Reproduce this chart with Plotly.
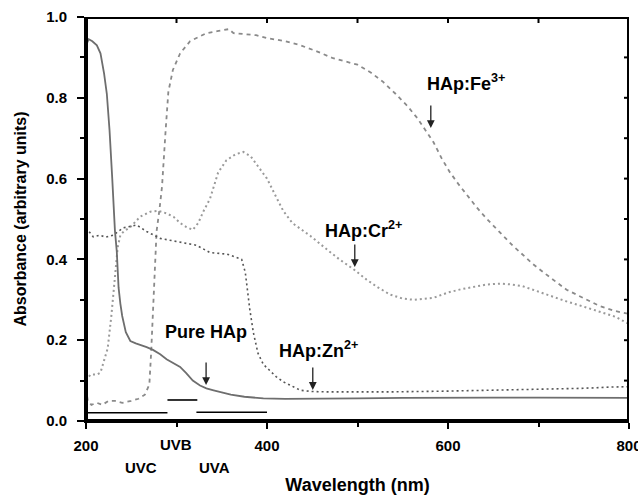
import plotly.graph_objects as go

# ---------------- data ----------------
pure_x = [200, 203, 207, 212, 216, 220, 223, 226, 229, 232, 234, 236, 238, 240, 244, 249, 255, 260, 267, 274,
          282, 289, 296, 304, 311, 318, 326, 333, 341, 348, 360, 375, 396, 420, 460, 500, 550, 600, 650, 700, 750, 800]
pure_y = [0.93, 0.945, 0.94, 0.93, 0.91, 0.86, 0.81, 0.72, 0.60, 0.47, 0.42, 0.33, 0.29, 0.26, 0.22, 0.198, 0.192,
          0.189, 0.183, 0.176, 0.165, 0.153, 0.144, 0.134, 0.118, 0.10, 0.088, 0.081, 0.076, 0.072, 0.065, 0.06,
          0.056, 0.055, 0.055, 0.056, 0.057, 0.058, 0.058, 0.058, 0.057, 0.057]

zn_x = [200, 208, 215, 222, 230, 241, 256, 267, 282, 296, 311, 322, 337, 356, 366, 372, 376, 378, 381, 385,
        390, 396, 403, 410, 418, 428, 437, 450, 466, 500, 535, 600, 650, 700, 750, 780, 800]
zn_y = [0.478, 0.456, 0.46, 0.455, 0.46, 0.478, 0.485, 0.469, 0.452, 0.446, 0.44, 0.435, 0.417, 0.413, 0.405,
        0.40, 0.368, 0.325, 0.276, 0.218, 0.168, 0.14, 0.126, 0.11, 0.097, 0.085, 0.076, 0.073, 0.072, 0.072,
        0.072, 0.074, 0.076, 0.079, 0.081, 0.084, 0.085]

cr_x = [200, 205, 212, 216, 220, 224, 228, 231, 233, 235, 238, 242, 249, 260, 271, 280, 289, 297, 304, 311,
        318, 324, 330, 337, 346, 355, 365, 374, 382, 392, 400, 410, 418, 428, 437, 448, 466, 480, 496, 510,
        523, 536, 550, 562, 584, 600, 614, 630, 643, 658, 670, 682, 702, 716, 731, 750, 768, 785, 800]
cr_y = [0.10, 0.115, 0.115, 0.12, 0.15, 0.18, 0.26, 0.33, 0.38, 0.43, 0.46, 0.47, 0.48, 0.506, 0.518, 0.52,
        0.514, 0.505, 0.49, 0.48, 0.473, 0.49, 0.52, 0.55, 0.615, 0.645, 0.66, 0.666, 0.655, 0.625, 0.60,
        0.555, 0.52, 0.49, 0.475, 0.458, 0.425, 0.40, 0.375, 0.35, 0.33, 0.313, 0.303, 0.30, 0.305, 0.318,
        0.326, 0.333, 0.338, 0.34, 0.338, 0.334, 0.318, 0.308, 0.296, 0.283, 0.27, 0.258, 0.24]

fe_x = [200, 202, 206, 212, 218, 225, 232, 240, 250, 258, 265, 270, 272, 274, 276, 278, 281, 284, 288, 291,
        296, 304, 315, 324, 333, 345, 358, 363, 375, 388, 400, 420, 437, 455, 473, 490, 500, 515, 528, 542,
        555, 566, 575, 584, 593, 602, 612, 621, 632, 643, 657, 672, 680, 694, 713, 731, 749, 768, 785, 800]
fe_y = [0.08, 0.05, 0.04, 0.045, 0.04, 0.05, 0.05, 0.045, 0.05, 0.055, 0.065, 0.09, 0.17, 0.28, 0.40, 0.47,
        0.52, 0.58, 0.72, 0.815, 0.869, 0.91, 0.94, 0.951, 0.96, 0.965, 0.97, 0.96, 0.958, 0.955, 0.948, 0.94,
        0.93, 0.915, 0.898, 0.888, 0.882, 0.862, 0.84, 0.81, 0.78, 0.75, 0.72, 0.69, 0.65, 0.616, 0.585, 0.558,
        0.528, 0.50, 0.467, 0.433, 0.417, 0.388, 0.355, 0.325, 0.305, 0.284, 0.272, 0.265]

# axis ranges and tick values
x_range = [200, 800]
y_range = [0.0, 1.0]
x_major = [200, 400, 600, 800]
x_top = [300, 400, 500, 600, 700]
y_major = [0.0, 0.2, 0.4, 0.6, 0.8, 1.0]
y_right = [0.1, 0.2, 0.3, 0.4, 0.5, 0.6, 0.7, 0.8, 0.9]

# UV band markers: name, start nm, end nm, level
band_names = ["UVC", "UVB", "UVA"]
band_start = [200, 290, 322]
band_end = [290, 323, 400]
band_level = [0.0205, 0.052, 0.0215]
band_label_x = [261, 299.5, 341.5]
band_label_y = [-0.114, -0.059, -0.114]

# curve labels
label_text = ["Pure HAp", "HAp:Zn<sup>2+</sup>", "HAp:Cr<sup>2+</sup>", "HAp:Fe<sup>3+</sup>"]
label_x = [285.5, 410.8, 462, 574.8]
label_y = [0.221, 0.176, 0.473, 0.837]
arrow_x = [332.7, 450.6, 497, 581]
arrow_y = [0.089, 0.077, 0.381, 0.725]

FONT = "Liberation Sans"
W, H = 638, 498
ML, MR, MT, MB = 86, 9, 17, 77
PW, PH = W - ML - MR, H - MT - MB
DX = (x_range[1] - x_range[0]) / PW   # data units per pixel
DY = (y_range[1] - y_range[0]) / PH

fig = go.Figure()

fig.add_trace(go.Scatter(x=fe_x, y=fe_y, mode="lines", name="HAp:Fe3+",
                         line=dict(color="#8a8a8a", width=1.8, dash="4px,4px")))
fig.add_trace(go.Scatter(x=cr_x, y=cr_y, mode="lines", name="HAp:Cr2+",
                         line=dict(color="#9a9a9a", width=2, dash="2px,3px")))
fig.add_trace(go.Scatter(x=zn_x, y=zn_y, mode="lines", name="HAp:Zn2+",
                         line=dict(color="#555555", width=1.6, dash="2px,3px")))
fig.add_trace(go.Scatter(x=pure_x, y=pure_y, mode="lines", name="Pure HAp",
                         line=dict(color="#6e6e6e", width=1.8)))

for s, e, lv in zip(band_start, band_end, band_level):
    fig.add_trace(go.Scatter(x=[s, e], y=[lv, lv], mode="lines", showlegend=False,
                             line=dict(color="black", width=1.6)))

# frame drawn as a trace along the axis ranges (half of the width lies inside the plot)
fig.add_trace(go.Scatter(
    x=[x_range[0], x_range[1], x_range[1], x_range[0], x_range[0]],
    y=[y_range[0], y_range[0], y_range[1], y_range[1], y_range[0]],
    mode="lines", showlegend=False, hoverinfo="skip",
    line=dict(color="black", width=4)))

# inward ticks on the top and right edges, drawn as trace segments
top_x, top_y = [], []
for v in x_top:
    top_x += [v, v, None]
    top_y += [y_range[1], y_range[1] - 6 * DY, None]
fig.add_trace(go.Scatter(x=top_x, y=top_y, mode="lines", showlegend=False, hoverinfo="skip",
                         line=dict(color="black", width=2)))
right_x, right_y = [], []
for v in y_right:
    right_x += [x_range[1], x_range[1] - 5 * DX, None]
    right_y += [v, v, None]
fig.add_trace(go.Scatter(x=right_x, y=right_y, mode="lines", showlegend=False, hoverinfo="skip",
                         line=dict(color="black", width=2)))

annotations = []
for t, x, y in zip(label_text, label_x, label_y):
    annotations.append(dict(x=x, y=y, xref="x", yref="y", text=t, showarrow=False,
                            xanchor="left", yanchor="middle",
                            font=dict(family=FONT, size=18, color="black", weight="bold")))
for x, y in zip(arrow_x, arrow_y):
    annotations.append(dict(x=x, y=y, xref="x", yref="y", text="", showarrow=True,
                            ax=0, ay=-24, arrowhead=2, arrowsize=1.2, arrowwidth=1.3,
                            arrowcolor="#222222"))
for t, x, y in zip(band_names, band_label_x, band_label_y):
    annotations.append(dict(x=x, y=y, xref="x", yref="paper", text=t, showarrow=False,
                            xanchor="center", yanchor="middle",
                            font=dict(family=FONT, size=15, color="black", weight="bold")))

fig.update_layout(
    width=W, height=H,
    margin=dict(l=ML, r=MR, t=MT, b=MB, autoexpand=False),
    paper_bgcolor="white", plot_bgcolor="white",
    showlegend=False,
    annotations=annotations,
    xaxis=dict(range=x_range, tickvals=x_major, ticks="outside", ticklen=6, tickwidth=2,
               tickcolor="black", showline=True, linecolor="black", linewidth=2,
               showgrid=False, zeroline=False, ticklabeloverflow="allow", automargin=False,
               minor=dict(dtick=100, ticks="outside", ticklen=4, tickwidth=2, tickcolor="black"),
               tickfont=dict(family=FONT, size=15, color="black", weight="bold"),
               ticklabelstandoff=4,
               title=dict(text="Wavelength (nm)", standoff=25,
                          font=dict(family=FONT, size=18, color="black", weight="bold"))),
    yaxis=dict(range=y_range, tickvals=y_major, tickformat=".1f", ticks="outside", ticklen=7,
               tickwidth=2, tickcolor="black", showline=True, linecolor="black", linewidth=2,
               showgrid=False, zeroline=False, automargin=False,
               minor=dict(dtick=0.1, ticks="outside", ticklen=4, tickwidth=2, tickcolor="black"),
               tickfont=dict(family=FONT, size=15, color="black", weight="bold"),
               ticklabelstandoff=7,
               title=dict(text="Absorbance (arbitrary units)", standoff=16,
                          font=dict(family=FONT, size=16, color="black", weight="bold"))),
)

fig.write_html("out.html")
